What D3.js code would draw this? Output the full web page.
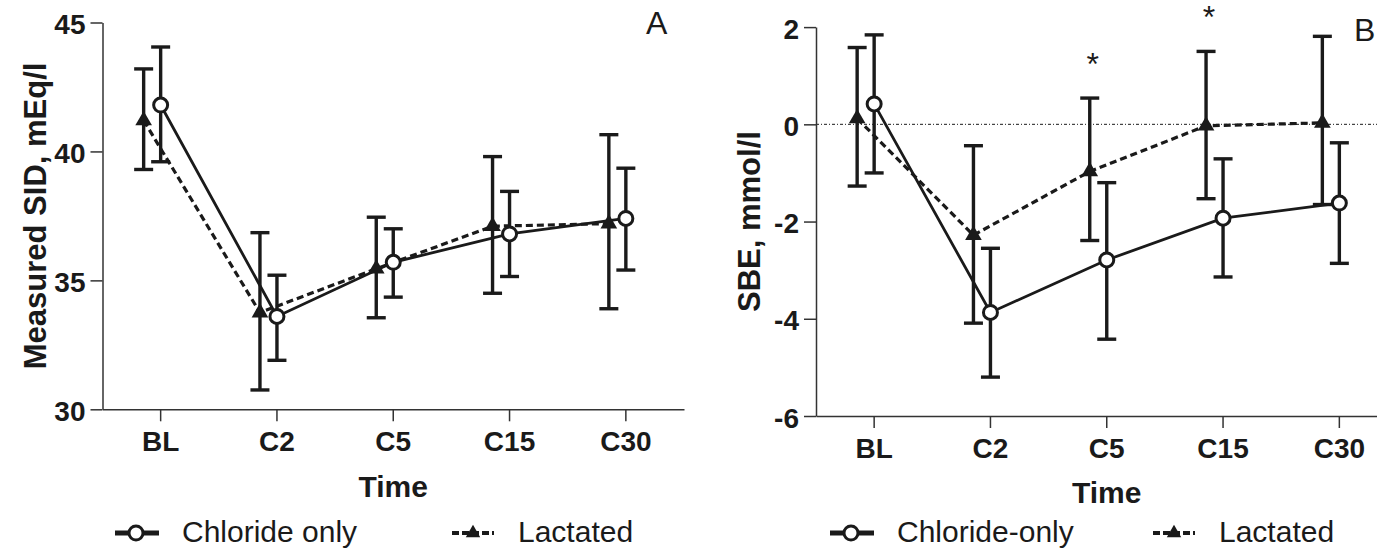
<!DOCTYPE html>
<html>
<head>
<meta charset="utf-8">
<script src="https://cdn.jsdelivr.net/npm/d3@7"></script>
<style>
  body { margin: 0; background: #fff; }
  svg { display: block; font-family: "Liberation Sans", Arial, sans-serif; }
  .axis path, .axis line { stroke: #333; stroke-width: 1.5; }
  .axis text { font-size: 28px; font-weight: bold; fill: #1a1a1a; }
</style>
</head>
<body>
<svg id="chart" width="1377" height="550"></svg>
<script>
// categories
var timePoints = ['BL', 'C2', 'C5', 'C15', 'C30'];

// panel A: measured SID, mEq/l (mean and error bar ends)
var sidTicks = [30, 35, 40, 45];
var sidChlorideMean = [41.8, 33.6, 35.7, 36.8, 37.4];
var sidChlorideLow = [39.6, 31.9, 34.35, 35.15, 35.4];
var sidChlorideHigh = [44.05, 35.2, 37.0, 38.45, 39.35];
var sidLactatedMean = [41.2, 33.75, 35.45, 37.1, 37.2];
var sidLactatedLow = [39.3, 30.75, 33.55, 34.5, 33.9];
var sidLactatedHigh = [43.2, 36.85, 37.45, 39.8, 40.65];

// panel B: SBE, mmol/l
var sbeTicks = [-6, -4, -2, 0, 2];
var sbeChlorideMean = [0.42, -3.87, -2.79, -1.93, -1.62];
var sbeChlorideLow = [-1.0, -5.2, -4.42, -3.14, -2.86];
var sbeChlorideHigh = [1.84, -2.55, -1.2, -0.71, -0.38];
var sbeLactatedMean = [0.12, -2.28, -0.97, -0.03, 0.03];
var sbeLactatedLow = [-1.27, -4.09, -2.39, -1.53, -1.65];
var sbeLactatedHigh = [1.58, -0.44, 0.54, 1.5, 1.81];
// time points where lactated differs (asterisk)
var sbeSignificant = ['C5', 'C15'];

var legendLabelsA = ['Chloride only', 'Lactated'];
var legendLabelsB = ['Chloride-only', 'Lactated'];

var svg = d3.select('#chart'),
    ink = '#1a1a1a',
    lactShift = -17,   // lactated markers sit left of the tick
    capHalf = 9.5,
    triangle = d3.symbol().type(d3.symbolTriangle);

function series(mean, low, high) {
    return timePoints.map(function (t, i) {
        return {t: t, v: mean[i], lo: low[i], hi: high[i]};
    });
}

function drawPanel(cfg) {
    var g = svg.append('g'),
        x = d3.scaleBand().domain(timePoints).range([cfg.left, cfg.right]),
        y = d3.scaleLinear().domain(cfg.domain).range([cfg.bottom, cfg.top]),
        cx = function (d, shift) { return x(d.t) + x.bandwidth() / 2 + shift; };

    if (cfg.zeroLine) {
        g.append('line')
            .attr('x1', cfg.left).attr('x2', 1377)
            .attr('y1', y(0)).attr('y2', y(0))
            .attr('stroke', ink).attr('stroke-width', 1)
            .attr('stroke-dasharray', '3,2,1,2');
    }

    g.append('g').attr('class', 'axis')
        .attr('transform', 'translate(' + cfg.left + ',0)')
        .call(d3.axisLeft(y).tickValues(cfg.ticks).tickSize(12).tickSizeOuter(0)
            .tickPadding(5).tickFormat(function (d) { return String(d); }))
        .selectAll('text').attr('dy', null).attr('y', 11);

    g.append('g').attr('class', 'axis')
        .attr('transform', 'translate(0,' + cfg.bottom + ')')
        .call(d3.axisBottom(x).tickSize(12).tickSizeOuter(0).tickPadding(0))
        .selectAll('text').attr('dy', null).attr('y', 41.5);

    g.append('text')
        .attr('x', (cfg.left + cfg.right) / 2).attr('y', cfg.bottom + 87.4)
        .attr('text-anchor', 'middle').attr('font-size', 30).attr('font-weight', 'bold')
        .attr('fill', ink).text('Time');

    g.append('text')
        .attr('transform', 'translate(' + cfg.labelX + ',' + (cfg.top + cfg.bottom) / 2 + ') rotate(-90)')
        .attr('text-anchor', 'middle').attr('font-size', 31).attr('font-weight', 'bold')
        .attr('fill', ink).text(cfg.yLabel);

    g.append('text')
        .attr('x', cfg.letterX).attr('y', cfg.letterY)
        .attr('font-size', 32).attr('fill', ink).text(cfg.letter);

    var lact = series(cfg.lact[0], cfg.lact[1], cfg.lact[2]),
        chl = series(cfg.chl[0], cfg.chl[1], cfg.chl[2]);

    g.append('path').datum(lact)
        .attr('fill', 'none').attr('stroke', ink).attr('stroke-width', 3.2)
        .attr('stroke-dasharray', '7,4')
        .attr('d', d3.line().x(function (d) { return cx(d, lactShift); }).y(function (d) { return y(d.v); }));
    g.append('path').datum(chl)
        .attr('fill', 'none').attr('stroke', ink).attr('stroke-width', 2.8)
        .attr('d', d3.line().x(function (d) { return cx(d, 0); }).y(function (d) { return y(d.v); }));

    [[lact, lactShift], [chl, 0]].forEach(function (s) {
        var bars = g.append('g').attr('stroke', ink).attr('stroke-width', 3.4);
        s[0].forEach(function (d) {
            var px = cx(d, s[1]);
            bars.append('line').attr('x1', px).attr('x2', px).attr('y1', y(d.lo)).attr('y2', y(d.hi));
            bars.append('line').attr('x1', px - capHalf).attr('x2', px + capHalf).attr('y1', y(d.lo)).attr('y2', y(d.lo));
            bars.append('line').attr('x1', px - capHalf).attr('x2', px + capHalf).attr('y1', y(d.hi)).attr('y2', y(d.hi));
        });
    });

    g.selectAll('.tri').data(lact).enter().append('path')
        .attr('d', triangle.size(120))
        .attr('transform', function (d) { return 'translate(' + cx(d, lactShift) + ',' + y(d.v) + ')'; })
        .attr('fill', ink);
    g.selectAll('.circ').data(chl).enter().append('circle')
        .attr('cx', function (d) { return cx(d, 0); }).attr('cy', function (d) { return y(d.v); })
        .attr('r', 7).attr('fill', '#fff').attr('stroke', ink).attr('stroke-width', 3);

    (cfg.stars || []).forEach(function (t) {
        var d = lact[timePoints.indexOf(t)];
        g.append('text')
            .attr('x', cx(d, lactShift) + 3).attr('y', y(d.hi) - 40 + 17)
            .attr('text-anchor', 'middle').attr('font-size', 32).attr('fill', ink).text('*');
    });

    // legend
    var lg = g.append('g').attr('transform', 'translate(' + cfg.legendX + ',533)');
    lg.append('line').attr('x1', 0).attr('x2', 44).attr('stroke', ink).attr('stroke-width', 5);
    lg.append('circle').attr('cx', 21).attr('r', 7).attr('fill', '#fff').attr('stroke', ink).attr('stroke-width', 3);
    lg.append('text').attr('x', 67).attr('y', 9).attr('font-size', 30).attr('fill', ink).text(cfg.legend[0]);
    lg.append('line').attr('x1', cfg.legendGap).attr('x2', cfg.legendGap + 42)
        .attr('stroke', ink).attr('stroke-width', 4).attr('stroke-dasharray', '7,3');
    lg.append('path').attr('d', triangle.size(90))
        .attr('transform', 'translate(' + (cfg.legendGap + 21) + ',0)').attr('fill', ink);
    lg.append('text').attr('x', cfg.legendGap + 66).attr('y', 9).attr('font-size', 30)
        .attr('fill', ink).text(cfg.legend[1]);
}

drawPanel({
    left: 102.5, right: 684, top: 22.5, bottom: 409.3, domain: [30, 45], ticks: sidTicks,
    yLabel: 'Measured SID, mEq/l', labelX: 46, letter: 'A', letterX: 646, letterY: 33.5,
    chl: [sidChlorideMean, sidChlorideLow, sidChlorideHigh],
    lact: [sidLactatedMean, sidLactatedLow, sidLactatedHigh],
    legend: legendLabelsA, legendX: 115, legendGap: 337
});

drawPanel({
    left: 816, right: 1397.5, top: 27.1, bottom: 416, domain: [-6, 2], ticks: sbeTicks,
    yLabel: 'SBE, mmol/l', labelX: 760, letter: 'B', letterX: 1354, letterY: 41,
    chl: [sbeChlorideMean, sbeChlorideLow, sbeChlorideHigh],
    lact: [sbeLactatedMean, sbeLactatedLow, sbeLactatedHigh],
    zeroLine: true, stars: sbeSignificant,
    legend: legendLabelsB, legendX: 830, legendGap: 323
});
</script>
</body>
</html>
